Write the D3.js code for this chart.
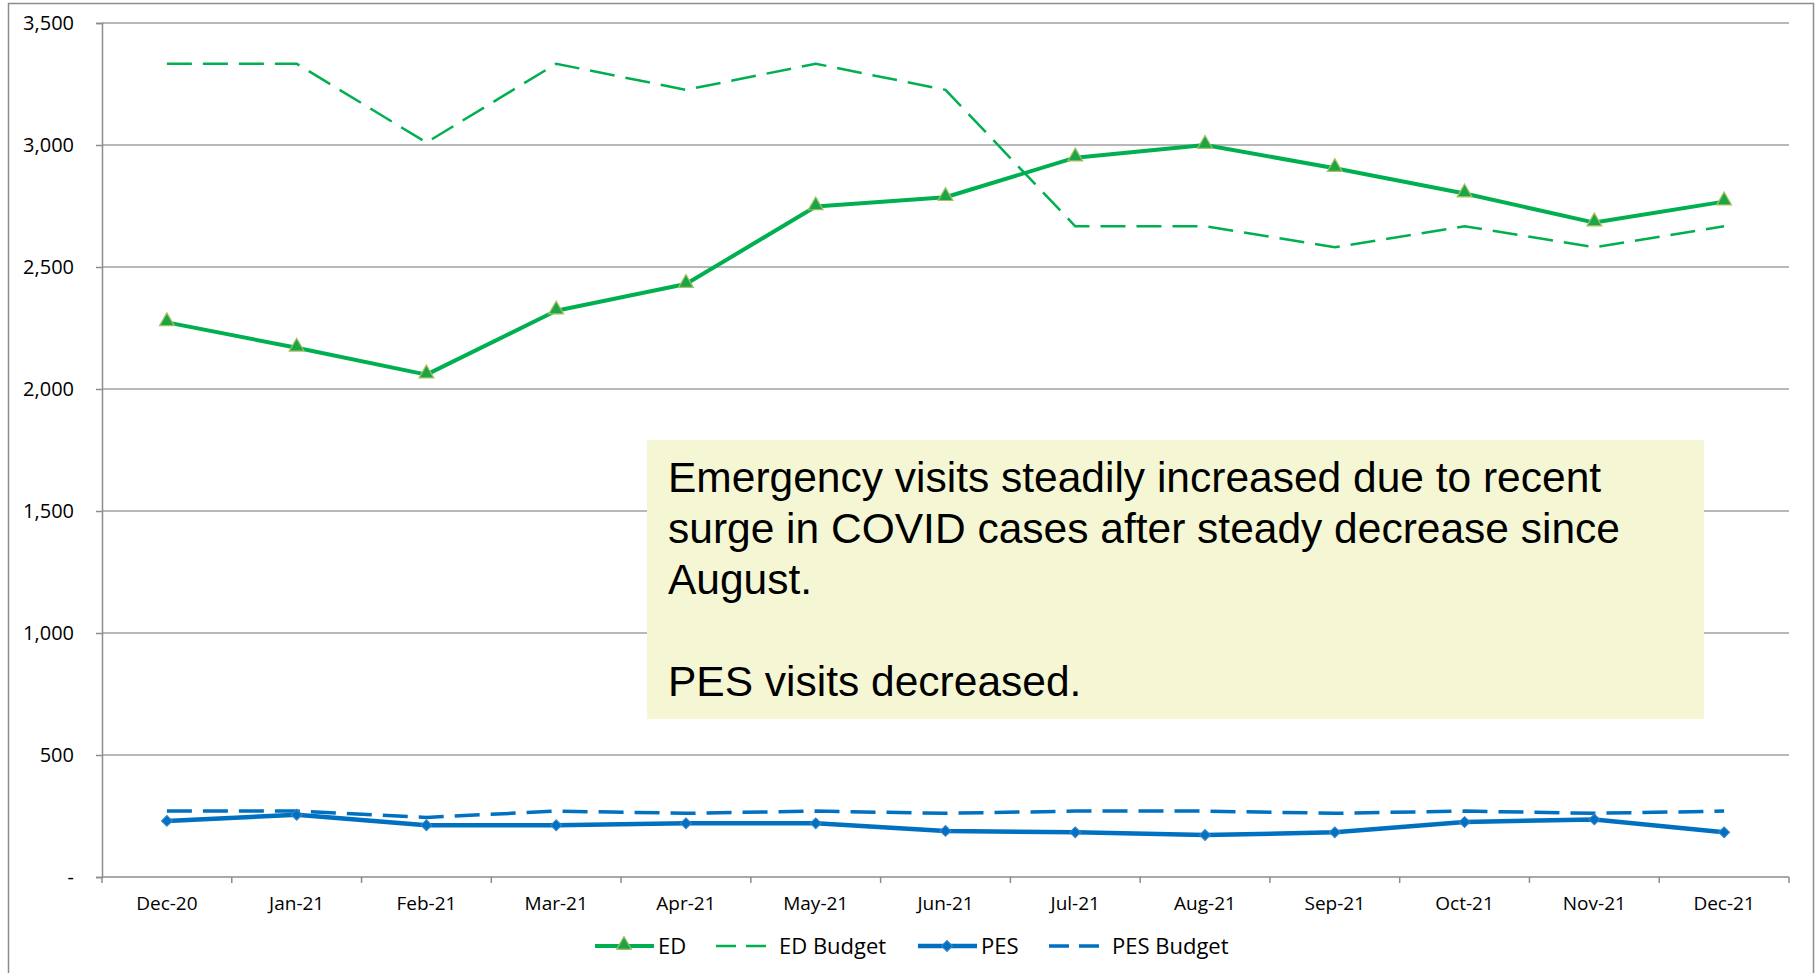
<!DOCTYPE html>
<html>
<head>
<meta charset="utf-8">
<script src="https://cdn.jsdelivr.net/npm/d3@7"></script>
<style>
  html, body { margin: 0; padding: 0; background: #fff; }
  svg { display: block; }
</style>
</head>
<body>
<div id="chart"></div>
<script>
// months on the x axis
const months = ['Dec-20', 'Jan-21', 'Feb-21', 'Mar-21', 'Apr-21', 'May-21', 'Jun-21',
                'Jul-21', 'Aug-21', 'Sep-21', 'Oct-21', 'Nov-21', 'Dec-21']

// series values
const edVisits   = [2273, 2169, 2059, 2321, 2430, 2748, 2786, 2948, 3000, 2905, 2801, 2682, 2768]
const edBudget   = [3333, 3333, 3010, 3333, 3226, 3333, 3226, 2667, 2667, 2581, 2667, 2581, 2667]
const pesVisits  = [230, 255, 212, 212, 220, 220, 189, 183, 172, 183, 225, 236, 183]
const pesBudget  = [270, 270, 244, 270, 261, 270, 261, 270, 270, 261, 270, 261, 270]

const yTicks = [0, 500, 1000, 1500, 2000, 2500, 3000, 3500]

const noteLines = [
  'Emergency visits steadily increased due to recent',
  'surge in COVID cases after steady decrease since',
  'August.',
  '',
  'PES visits decreased.'
]

const W = 1818, H = 973
const m = { left: 102, right: 29, top: 23, bottom: 96 }
const plotW = W - m.left - m.right
const plotH = H - m.top - m.bottom

const green = '#00B050'
const blue = '#0070C0'

const svg = d3.select('#chart').append('svg')
  .attr('width', W)
  .attr('height', H)

// outer chart border
svg.append('rect')
  .attr('x', 8.5).attr('y', 3.5)
  .attr('width', 1805).attr('height', 1000)
  .attr('fill', 'none')
  .attr('stroke', '#8c8c8c')
  .attr('stroke-width', 1.5)

const g = svg.append('g').attr('transform', `translate(${m.left},${m.top})`)

const x = d3.scaleBand().domain(months).range([0, plotW]).padding(0)
const y = d3.scaleLinear().domain([0, 3500]).range([plotH, 0])
const cx = d => x(d) + x.bandwidth() / 2

// gridlines
g.append('g')
  .selectAll('line')
  .data(yTicks.filter(t => t > 0))
  .enter().append('line')
  .attr('x1', 0).attr('x2', plotW)
  .attr('y1', d => y(d)).attr('y2', d => y(d))
  .attr('stroke', '#a0a0a0')
  .attr('stroke-width', 1.5)

// y axis
const yAxis = g.append('g')
  .call(d3.axisLeft(y).tickValues(yTicks).tickSize(6).tickPadding(22)
    .tickFormat(d => d === 0 ? '-' : d3.format(',')(d)))
yAxis.select('.domain').attr('stroke', '#8c8c8c').attr('stroke-width', 1.5)
yAxis.selectAll('.tick line').attr('stroke', '#8c8c8c').attr('stroke-width', 1.5)
yAxis.selectAll('text')
  .attr('font-family', 'Open Sans, sans-serif')
  .attr('font-size', 20)
  .attr('fill', '#000')

// x axis, ticks sit between categories
const xAxisG = g.append('g').attr('transform', `translate(0,${plotH})`)
xAxisG.append('line')
  .attr('x1', 0).attr('x2', plotW)
  .attr('stroke', '#8c8c8c').attr('stroke-width', 1.5)
xAxisG.selectAll('.xtick')
  .data(d3.range(months.length + 1))
  .enter().append('line')
  .attr('x1', i => i * x.step()).attr('x2', i => i * x.step())
  .attr('y1', 0).attr('y2', 6)
  .attr('stroke', '#8c8c8c').attr('stroke-width', 1.5)
xAxisG.selectAll('.xlab')
  .data(months)
  .enter().append('text')
  .attr('x', d => cx(d))
  .attr('y', 33)
  .attr('text-anchor', 'middle')
  .attr('font-family', 'Open Sans, sans-serif')
  .attr('font-size', 19)
  .attr('fill', '#000')
  .text(d => d)

const line = d3.line()
  .x((d, i) => cx(months[i]))
  .y(d => y(d))

// series
g.append('path').datum(edBudget)
  .attr('d', line).attr('fill', 'none')
  .attr('stroke', green).attr('stroke-width', 2.5)
  .attr('stroke-dasharray', '25,11')

g.append('path').datum(pesBudget)
  .attr('d', line).attr('fill', 'none')
  .attr('stroke', blue).attr('stroke-width', 3.5)
  .attr('stroke-dasharray', '25,11')

g.append('path').datum(edVisits)
  .attr('d', line).attr('fill', 'none')
  .attr('stroke', green).attr('stroke-width', 4)
  .attr('stroke-linejoin', 'round')

g.append('path').datum(pesVisits)
  .attr('d', line).attr('fill', 'none')
  .attr('stroke', blue).attr('stroke-width', 4.5)
  .attr('stroke-linejoin', 'round')

const tri = d3.symbol().type(d3.symbolTriangle).size(95)
const dia = d3.symbol().type(d3.symbolSquare).size(60)

g.selectAll('.edMark')
  .data(edVisits)
  .enter().append('path')
  .attr('d', tri)
  .attr('transform', (d, i) => `translate(${cx(months[i])},${y(d) - 1})`)
  .attr('fill', '#1aa646')
  .attr('stroke', '#a8c060')
  .attr('stroke-width', 1.2)

g.selectAll('.pesMark')
  .data(pesVisits)
  .enter().append('path')
  .attr('d', dia)
  .attr('transform', (d, i) => `translate(${cx(months[i])},${y(d)}) rotate(45)`)
  .attr('fill', blue)
  .attr('stroke', '#3b87cc')
  .attr('stroke-width', 1)

// annotation box
const note = svg.append('g').attr('transform', 'translate(647,440)')
note.append('rect')
  .attr('width', 1057).attr('height', 279)
  .attr('fill', '#F5F7D4')
note.selectAll('text')
  .data(noteLines)
  .enter().append('text')
  .attr('x', 21)
  .attr('y', (d, i) => 52 + i * 51)
  .attr('font-family', 'Liberation Sans, Arial, sans-serif')
  .attr('font-size', 42.5)
  .attr('fill', '#000')
  .text(d => d)

// legend
const legendItems = [
  { name: 'ED', color: green, width: 4, dash: null, marker: 'tri', x: 595 },
  { name: 'ED Budget', color: green, width: 2.5, dash: '20,10', marker: null, x: 716 },
  { name: 'PES', color: blue, width: 4.5, dash: null, marker: 'dia', x: 918 },
  { name: 'PES Budget', color: blue, width: 3.5, dash: '20,10', marker: null, x: 1049 }
]
const legend = svg.append('g').attr('transform', 'translate(0,946)')
const li = legend.selectAll('g').data(legendItems).enter().append('g')
  .attr('transform', d => `translate(${d.x},0)`)
li.append('line')
  .attr('x1', 0).attr('x2', 59)
  .attr('stroke', d => d.color)
  .attr('stroke-width', d => d.width)
  .attr('stroke-dasharray', d => d.dash)
li.filter(d => d.marker === 'tri').append('path')
  .attr('d', tri)
  .attr('transform', 'translate(29,-1)')
  .attr('fill', '#1aa646').attr('stroke', '#a8c060').attr('stroke-width', 1.2)
li.filter(d => d.marker === 'dia').append('path')
  .attr('d', dia)
  .attr('transform', 'translate(29,0) rotate(45)')
  .attr('fill', blue).attr('stroke', '#3b87cc').attr('stroke-width', 1)
li.append('text')
  .attr('x', 63)
  .attr('y', 8)
  .attr('font-family', 'Open Sans, sans-serif')
  .attr('font-size', 22)
  .attr('fill', '#000')
  .text(d => d.name)
</script>
</body>
</html>
